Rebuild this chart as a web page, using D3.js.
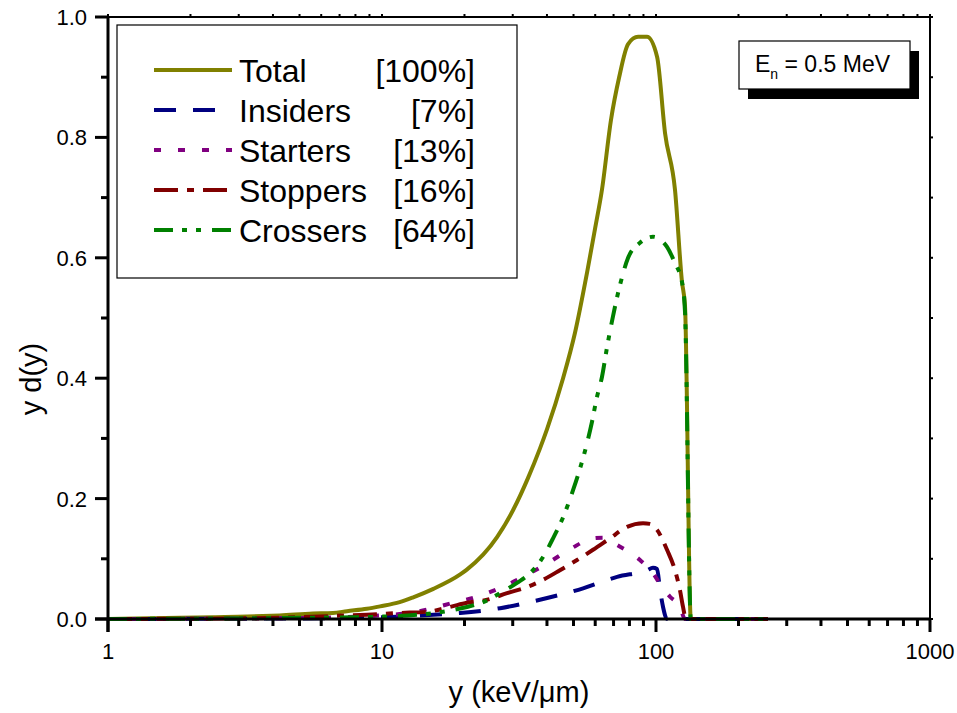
<!DOCTYPE html>
<html>
<meta charset="utf-8">
<title>yd(y) spectra</title>
<style>
  body { margin: 0; background: #fff; }
  svg text { font-family: "Liberation Sans", Arial, sans-serif; fill: #000; }
  .axis line, .axis path { stroke: #000; }
</style>
<body>
<script src="https://d3js.org/d3.v7.min.js"></script>
<script>

// series values (x = lineal energy in keV/um, y = y d(y))
var totalX = [1, 1.83, 2.42, 3.22, 4.24, 5.6, 6.62, 7.45, 8.81, 9.84, 11.6, 13.0, 15.4, 19.3, 20.4, 26.3, 30.1, 34.1, 37.7, 40.0, 45.8, 50.6, 56.0, 59.9, 63.5, 68.5, 73.3, 79.1, 86.0, 92.7, 100.9, 107.9, 117.3, 124.4, 127.6, 134, 256];
var totalY = [0, 0.002, 0.003, 0.004, 0.006, 0.009, 0.010, 0.013, 0.017, 0.021, 0.028, 0.036, 0.050, 0.074, 0.082, 0.136, 0.181, 0.234, 0.283, 0.315, 0.400, 0.475, 0.575, 0.648, 0.713, 0.829, 0.899, 0.955, 0.967, 0.967, 0.934, 0.807, 0.713, 0.560, 0.520, 0, 0];

var insidersX = [1, 5, 10, 15.4, 19.3, 27.0, 37.7, 54.2, 72.1, 92.7, 97.5, 100.9, 103.5, 106.1, 109.7, 256];
var insidersY = [0, 0.001, 0.003, 0.007, 0.010, 0.018, 0.032, 0.051, 0.070, 0.081, 0.085, 0.083, 0.048, 0.020, 0, 0];

var startersX = [1, 4, 7, 10, 12.6, 15.0, 18.2, 22.2, 27.4, 40.3, 49.4, 58.9, 64, 72.1, 87.4, 97.5, 105.1, 112.5, 122.3, 127.6, 256];
var startersY = [0, 0.001, 0.003, 0.006, 0.010, 0.017, 0.027, 0.037, 0.053, 0.093, 0.118, 0.134, 0.135, 0.123, 0.098, 0.076, 0.053, 0.037, 0.020, 0, 0];

var stoppersX = [1, 3, 5, 6.62, 8.81, 11.6, 14.6, 17.7, 20.4, 24.2, 28.6, 33.8, 38.7, 44.6, 51.5, 58.9, 67.9, 78.4, 89.7, 95, 100.9, 109.7, 117.3, 122.3, 125.5, 128.6, 256];
var stoppersY = [0, 0.001, 0.003, 0.005, 0.007, 0.010, 0.012, 0.020, 0.027, 0.032, 0.043, 0.053, 0.065, 0.081, 0.098, 0.115, 0.134, 0.153, 0.159, 0.158, 0.148, 0.115, 0.081, 0.048, 0.020, 0, 0];

var crossersX = [1, 3, 5, 8, 10.1, 13.4, 16.7, 20.4, 23.4, 27.0, 31.1, 34.7, 38.7, 42.1, 45.8, 49.8, 52.8, 56.0, 58.3, 60.9, 63.5, 66.3, 69.6, 73.9, 79.1, 87.4, 97.5, 104, 109.7, 117.3, 124.4, 127.6, 134, 256];
var crossersY = [0, 0.001, 0.002, 0.003, 0.004, 0.007, 0.012, 0.020, 0.028, 0.043, 0.060, 0.076, 0.103, 0.134, 0.169, 0.214, 0.250, 0.292, 0.326, 0.369, 0.402, 0.452, 0.502, 0.555, 0.600, 0.625, 0.635, 0.630, 0.618, 0.591, 0.560, 0.510, 0, 0];

var seriesNames = ["Total", "Insiders", "Starters", "Stoppers", "Crossers"];
var seriesPercents = ["[100%]", "[7%]", "[13%]", "[16%]", "[64%]"];

var xTicks = [1, 10, 100, 1000];
var xTickLabels = ["1", "10", "100", "1000"];
var yTicks = [0, 0.2, 0.4, 0.6, 0.8, 1.0];
var yTickLabels = ["0.0", "0.2", "0.4", "0.6", "0.8", "1.0"];

var xTitle = "y (keV/\u03bcm)";
var yTitle = "y d(y)";

var width = 957, height = 713;
var margin = {top: 17, right: 27, bottom: 94, left: 108};

var x = d3.scaleLog().domain([1, 1000]).range([margin.left, width - margin.right]);
var y = d3.scaleLinear().domain([0, 1]).range([height - margin.bottom, margin.top]);

var styles = [
  {color: "#808000", dash: null},
  {color: "#000080", dash: "22,17"},
  {color: "#800080", dash: "7,17"},
  {color: "#800000", dash: "24,9,7,9"},
  {color: "#008000", dash: "19,9,5,9,5,11"}
];

var series = [
  d3.zip(totalX, totalY),
  d3.zip(insidersX, insidersY),
  d3.zip(startersX, startersY),
  d3.zip(stoppersX, stoppersY),
  d3.zip(crossersX, crossersY)
];

var svg = d3.select("body").append("svg")
    .attr("width", width)
    .attr("height", height);

// minor ticks
var xMinor = [];
[1, 10, 100].forEach(function(d) { for (var i = 2; i < 10; i++) xMinor.push(d * i); });
var yMinor = [0.1, 0.3, 0.5, 0.7, 0.9];

var x0 = x.range()[0], x1 = x.range()[1], y0 = y.range()[0], y1 = y.range()[1];

// top and right frame, tiny outward ticks
var frame = svg.append("g").attr("class", "axis");
frame.append("line").attr("x1", x0).attr("x2", x1).attr("y1", y1).attr("y2", y1).attr("stroke-width", 2);
frame.append("line").attr("x1", x1).attr("x2", x1).attr("y1", y1).attr("y2", y0).attr("stroke-width", 2);
frame.selectAll(".tt").data(xTicks.concat(xMinor)).enter().append("line")
    .attr("x1", function(d) { return x(d); }).attr("x2", function(d) { return x(d); })
    .attr("y1", y1).attr("y2", y1 - 3).attr("stroke-width", 2);
frame.selectAll(".rt").data(yTicks.concat(yMinor)).enter().append("line")
    .attr("y1", function(d) { return y(d); }).attr("y2", function(d) { return y(d); })
    .attr("x1", x1).attr("x2", x1 + 3).attr("stroke-width", 2);

// curves
var line = d3.line()
    .x(function(d) { return x(d[0]); })
    .y(function(d) { return y(d[1]); })
    .curve(d3.curveMonotoneX);

svg.append("g").selectAll("path")
    .data(series)
  .enter().append("path")
    .attr("d", line)
    .attr("fill", "none")
    .attr("stroke", function(d, i) { return styles[i].color; })
    .attr("stroke-width", 4)
    .attr("stroke-dasharray", function(d, i) { return styles[i].dash; })
    .attr("stroke-linejoin", "round");

// bottom axis
var xAxis = svg.append("g").attr("class", "axis");
xAxis.append("line").attr("x1", x0 - 13).attr("x2", x1).attr("y1", y0).attr("y2", y0).attr("stroke-width", 3);
xAxis.selectAll(".maj").data(xTicks).enter().append("line")
    .attr("x1", function(d) { return x(d); }).attr("x2", function(d) { return x(d); })
    .attr("y1", y0).attr("y2", y0 + 13).attr("stroke-width", 3);
xAxis.selectAll(".min").data(xMinor).enter().append("line")
    .attr("x1", function(d) { return x(d); }).attr("x2", function(d) { return x(d); })
    .attr("y1", y0).attr("y2", y0 + 7).attr("stroke-width", 3);
xAxis.selectAll("text").data(xTicks).enter().append("text")
    .attr("x", function(d) { return x(d); })
    .attr("y", y0 + 40)
    .attr("text-anchor", "middle")
    .attr("font-size", 22)
    .text(function(d, i) { return xTickLabels[i]; });

// left axis
var yAxis = svg.append("g").attr("class", "axis");
yAxis.append("line").attr("x1", x0).attr("x2", x0).attr("y1", y1).attr("y2", y0 + 13).attr("stroke-width", 3);
yAxis.selectAll(".maj").data(yTicks).enter().append("line")
    .attr("y1", function(d) { return y(d); }).attr("y2", function(d) { return y(d); })
    .attr("x1", x0).attr("x2", x0 - 13).attr("stroke-width", 3);
yAxis.selectAll(".min").data(yMinor).enter().append("line")
    .attr("y1", function(d) { return y(d); }).attr("y2", function(d) { return y(d); })
    .attr("x1", x0).attr("x2", x0 - 7).attr("stroke-width", 3);
yAxis.selectAll("text").data(yTicks).enter().append("text")
    .attr("x", x0 - 21)
    .attr("y", function(d) { return y(d) + 8; })
    .attr("text-anchor", "end")
    .attr("font-size", 22)
    .text(function(d, i) { return yTickLabels[i]; });

// axis titles
svg.append("text")
    .attr("x", 519).attr("y", 702)
    .attr("text-anchor", "middle")
    .attr("font-size", 29)
    .text(xTitle);
svg.append("text")
    .attr("transform", "translate(41,379) rotate(-90)")
    .attr("text-anchor", "middle")
    .attr("font-size", 29)
    .text(yTitle);

// legend
var legend = svg.append("g");
legend.append("rect")
    .attr("x", 117).attr("y", 25).attr("width", 400).attr("height", 253)
    .attr("fill", "#fff").attr("stroke", "#000").attr("stroke-width", 1.2);
var rows = legend.selectAll(".row").data(seriesNames).enter().append("g")
    .attr("transform", function(d, i) { return "translate(0," + (70 + i * 40) + ")"; });
rows.append("line")
    .attr("x1", 154).attr("x2", 232).attr("y1", 0).attr("y2", 0)
    .attr("stroke", function(d, i) { return styles[i].color; })
    .attr("stroke-width", 4)
    .attr("stroke-dasharray", function(d, i) { return styles[i].dash; });
rows.append("text")
    .attr("x", 239).attr("y", 11.5)
    .attr("font-size", 32)
    .text(function(d) { return d; });
rows.append("text")
    .attr("x", 475).attr("y", 11.5)
    .attr("text-anchor", "end")
    .attr("font-size", 32)
    .text(function(d, i) { return seriesPercents[i]; });

// energy label with drop shadow
var en = svg.append("g");
en.append("rect").attr("x", 748).attr("y", 51).attr("width", 171).attr("height", 48).attr("fill", "#000");
en.append("rect").attr("x", 739).attr("y", 41).attr("width", 171).attr("height", 48)
    .attr("fill", "#fff").attr("stroke", "#000").attr("stroke-width", 1.2);
var enText = en.append("text").attr("x", 755).attr("y", 72).attr("font-size", 23);
enText.append("tspan").text("E");
enText.append("tspan").attr("font-size", 14).attr("dy", 7).text("n");
enText.append("tspan").attr("dy", -7).text(" = 0.5 MeV");

</script>
</body>
</html>
